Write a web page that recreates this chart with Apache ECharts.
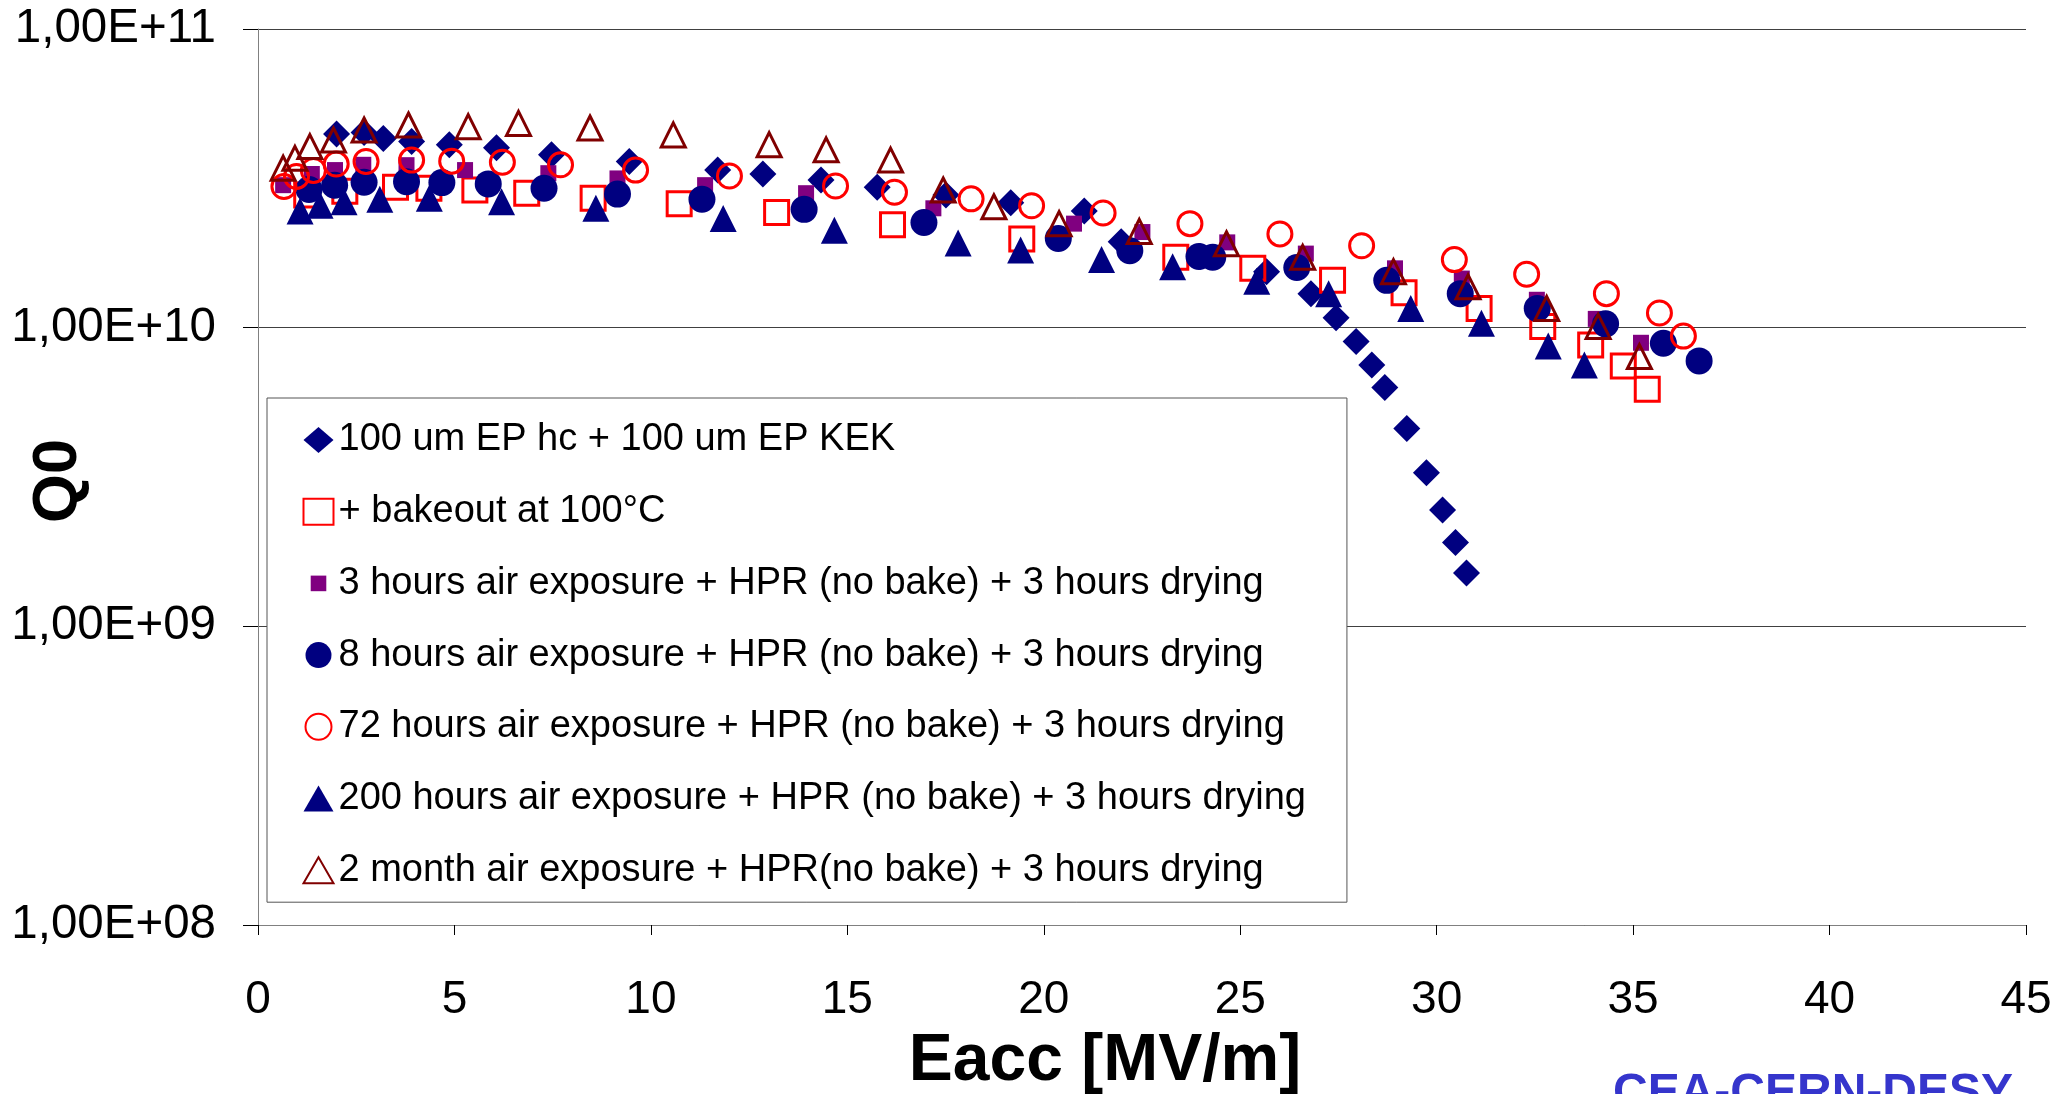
<!DOCTYPE html>
<html><head><meta charset="utf-8">
<script src="https://cdn.jsdelivr.net/npm/echarts@6/dist/echarts.min.js"></script>
<style>html,body{margin:0;padding:0;background:#fff}#c{width:2063px;height:1094px}</style>
</head><body><div id="c"></div>
<script>
const seriesNames = [
  '100 um EP hc + 100 um EP KEK',
  '+ bakeout at 100°C',
  '3 hours air exposure + HPR (no bake) + 3 hours drying',
  '8 hours air exposure + HPR (no bake) + 3 hours drying',
  '72 hours air exposure + HPR (no bake) + 3 hours drying',
  '200 hours air exposure + HPR (no bake) + 3 hours drying',
  '2 month air exposure + HPR(no bake) + 3 hours drying'
];
const yTickLabels = ['1,00E+08', '1,00E+09', '1,00E+10', '1,00E+11'];

// 100 um EP hc + 100 um EP KEK (diamonds)
const epX = [2.0, 2.7, 3.19, 3.91, 4.87, 6.07, 7.47, 9.45, 11.7, 12.85, 14.33, 15.76, 17.51, 19.16, 21.03, 21.97, 23.98, 25.67, 26.8, 27.44, 27.95, 28.35, 28.68, 29.24, 29.74, 30.15, 30.48, 30.76];
const epQ = [4.45e10, 4.5e10, 4.3e10, 4.2e10, 4.1e10, 4.0e10, 3.79e10, 3.6e10, 3.37e10, 3.27e10, 3.12e10, 2.95e10, 2.78e10, 2.62e10, 2.46e10, 1.94e10, 1.73e10, 1.54e10, 1.3e10, 1.08e10, 8.98e9, 7.5e9, 6.3e9, 4.6e9, 3.27e9, 2.45e9, 1.91e9, 1.51e9];

// + bakeout at 100°C (open squares)
const bakeX = [1.24, 2.21, 3.5, 4.35, 5.52, 6.84, 8.53, 10.72, 13.2, 16.15, 19.44, 23.36, 25.32, 27.35, 29.17, 31.08, 32.7, 33.92, 34.75, 35.36];
const bakeQ = [2.78e10, 2.86e10, 2.95e10, 2.93e10, 2.89e10, 2.82e10, 2.71e10, 2.6e10, 2.43e10, 2.21e10, 1.98e10, 1.72e10, 1.58e10, 1.44e10, 1.31e10, 1.16e10, 1.01e10, 8.75e9, 7.44e9, 6.22e9];

// 3 hours air exposure (small purple squares)
const h3X = [0.64, 1.37, 1.96, 2.68, 3.78, 5.27, 7.39, 9.15, 11.38, 13.95, 17.19, 20.77, 22.51, 24.67, 26.67, 28.94, 30.64, 32.55, 34.05, 35.2];
const h3Q = [3.0e10, 3.27e10, 3.37e10, 3.51e10, 3.5e10, 3.37e10, 3.29e10, 3.16e10, 3.0e10, 2.82e10, 2.51e10, 2.23e10, 2.09e10, 1.93e10, 1.77e10, 1.58e10, 1.46e10, 1.24e10, 1.07e10, 8.9e9];

// 8 hours air exposure (filled circles)
const h8X = [1.3, 1.95, 2.7, 3.78, 4.68, 5.86, 7.28, 9.15, 11.3, 13.9, 16.95, 20.37, 22.19, 23.95, 24.3, 26.44, 28.73, 30.6, 32.56, 34.3, 35.77, 36.68];
const h8Q = [2.9e10, 3.0e10, 3.07e10, 3.08e10, 3.06e10, 3.03e10, 2.93e10, 2.8e10, 2.69e10, 2.49e10, 2.25e10, 1.99e10, 1.81e10, 1.73e10, 1.72e10, 1.59e10, 1.44e10, 1.3e10, 1.16e10, 1.03e10, 8.87e9, 7.74e9];

// 72 hours air exposure (open circles)
const h72X = [0.66, 0.98, 1.41, 1.99, 2.75, 3.91, 4.93, 6.22, 7.7, 9.61, 12.0, 14.7, 16.2, 18.15, 19.69, 21.51, 23.72, 26.01, 28.09, 30.45, 32.29, 34.32, 35.67, 36.28];
const h72Q = [2.97e10, 3.21e10, 3.36e10, 3.53e10, 3.6e10, 3.64e10, 3.61e10, 3.58e10, 3.51e10, 3.37e10, 3.22e10, 2.98e10, 2.84e10, 2.7e10, 2.56e10, 2.42e10, 2.23e10, 2.06e10, 1.88e10, 1.69e10, 1.51e10, 1.3e10, 1.12e10, 9.37e9];

// 200 hours air exposure (filled triangles)
const h200X = [1.07, 1.58, 2.19, 3.1, 4.36, 6.2, 8.6, 11.84, 14.67, 17.82, 19.41, 21.47, 23.28, 25.42, 27.25, 29.34, 31.14, 32.84, 33.76];
const h200Q = [2.46e10, 2.57e10, 2.64e10, 2.69e10, 2.71e10, 2.64e10, 2.51e10, 2.32e10, 2.12e10, 1.92e10, 1.82e10, 1.69e10, 1.6e10, 1.43e10, 1.3e10, 1.16e10, 1.035e10, 8.69e9, 7.5e9];

// 2 month air exposure (open triangles)
const m2X = [0.64, 0.94, 1.32, 1.92, 2.7, 3.83, 5.35, 6.63, 8.45, 10.57, 13.01, 14.46, 16.1, 17.44, 18.73, 20.39, 22.43, 24.65, 26.59, 28.9, 30.8, 32.8, 34.11, 35.16];
const m2Q = [3.42e10, 3.69e10, 4.04e10, 4.25e10, 4.59e10, 4.77e10, 4.71e10, 4.83e10, 4.66e10, 4.42e10, 4.1e10, 3.94e10, 3.64e10, 2.89e10, 2.54e10, 2.23e10, 2.1e10, 1.91e10, 1.72e10, 1.54e10, 1.37e10, 1.16e10, 1.01e10, 8.0e9];

function pts(xs, qs) { return xs.map((x, i) => [x, qs[i]]); }

const FONT = "'Liberation Sans', Arial, sans-serif";
const NAVY = '#000080', RED = '#ff0000', PURPLE = '#800080', DRED = '#800000';
const clear = 'rgba(0,0,0,0)';

const defs = [
  { x: epX, q: epQ, symbol: 'diamond', size: 27, style: { color: NAVY } },
  { x: bakeX, q: bakeQ, symbol: 'rect', size: 24, style: { color: clear, borderColor: RED, borderWidth: 3 } },
  { x: h3X, q: h3Q, symbol: 'rect', size: 16, style: { color: PURPLE } },
  { x: h8X, q: h8Q, symbol: 'circle', size: 27, style: { color: NAVY } },
  { x: h72X, q: h72Q, symbol: 'circle', size: 24, style: { color: clear, borderColor: RED, borderWidth: 3 } },
  { x: h200X, q: h200Q, symbol: 'triangle', size: 27, style: { color: NAVY } },
  { x: m2X, q: m2Q, symbol: 'triangle', size: 24, style: { color: clear, borderColor: DRED, borderWidth: 3 } }
];

const series = defs.map((d, i) => ({
  name: seriesNames[i],
  type: 'scatter',
  data: pts(d.x, d.q),
  symbol: d.symbol,
  symbolSize: d.size,
  itemStyle: Object.assign({ opacity: 1 }, d.style),
  emphasis: { disabled: true },
  z: 2 + i
}));

const legendData = seriesNames.map((n, i) => {
  const item = { name: n };
  if (i === 2) item.icon = 'path://M0,0M25,25M5,5L20,5L20,20L5,20Z';
  if (i === 1 || i === 4 || i === 6) item.itemStyle = { borderWidth: 2 };
  return item;
});

const chart = echarts.init(document.getElementById('c'), null, { renderer: 'canvas' });
chart.setOption({
  animation: false,
  backgroundColor: '#fff',
  grid: { left: 258, right: 37, top: 29, bottom: 169, containLabel: false, outerBoundsMode: 'none' },
  xAxis: {
    type: 'value', min: 0, max: 45, interval: 5,
    axisLine: { show: true, lineStyle: { color: '#808080', width: 1 } },
    axisTick: { show: true, length: 10, lineStyle: { color: '#000' } },
    axisLabel: { fontSize: 46, lineHeight: 46, color: '#000', fontFamily: FONT, margin: 52 },
    splitLine: { show: false }
  },
  yAxis: {
    type: 'log', logBase: 10, min: 1e8, max: 1e11,
    axisLine: { show: true, lineStyle: { color: '#808080', width: 1 } },
    axisTick: { show: true, length: 15, lineStyle: { color: '#000' } },
    minorTick: { show: false },
    axisLabel: {
      fontSize: 47.5, lineHeight: 47, color: '#000', fontFamily: FONT, margin: 42,
      padding: [12, 0, 0, 0],
      formatter: v => yTickLabels[Math.round(Math.log10(v)) - 8]
    },
    splitLine: { show: true, lineStyle: { color: '#404040', width: 1 } }
  },
  legend: {
    orient: 'vertical',
    left: 267, top: 398,
    padding: [23, 41, 13, 35.5],
    itemGap: 33.7,
    itemWidth: 30, itemHeight: 26,
    backgroundColor: '#fff',
    borderColor: '#555', borderWidth: 1,
    textStyle: { fontSize: 38, lineHeight: 38, color: '#000', fontFamily: FONT },
    selectedMode: false,
    data: legendData
  },
  graphic: [
    { type: 'text', x: 1105, y: 1062, z: 100,
      style: { text: 'Eacc [MV/m]', font: "bold 66px " + FONT, fill: '#000', textAlign: 'center', textVerticalAlign: 'middle' } },
    { type: 'text', x: 59, y: 481, rotation: Math.PI / 2, z: 100,
      style: { text: 'Q0', font: "bold 63px " + FONT, fill: '#000', textAlign: 'center', textVerticalAlign: 'middle' } },
    { type: 'text', x: 1613, y: 1094, z: 100,
      style: { text: 'CEA-CERN-DESY', font: "bold 48px " + FONT, fill: '#3535cc', textAlign: 'left', textVerticalAlign: 'middle' } }
  ],
  series: series
});
</script>
</body></html>
